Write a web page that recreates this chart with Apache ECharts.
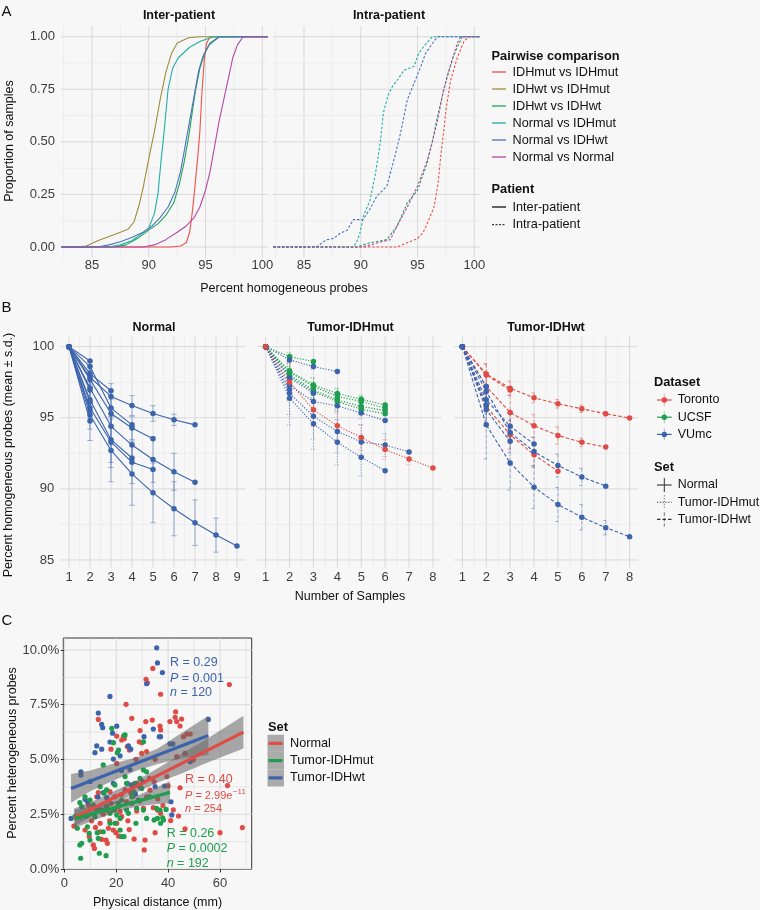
<!DOCTYPE html>
<html><head><meta charset="utf-8">
<script src="https://cdn.jsdelivr.net/npm/echarts@6/dist/echarts.min.js"></script>
<style>html,body{margin:0;padding:0;background:#f7f7f7}#c{width:760px;height:910px}</style>
</head><body><div id="c"></div>
<script>
// ================= DATA =================
// ---- Panel A: ECDF curves, [percent homogeneous, proportion] ----
const pairNames = ['IDHmut vs IDHmut','IDHwt vs IDHmut','IDHwt vs IDHwt','Normal vs IDHmut','Normal vs IDHwt','Normal vs Normal'];
const interIDHmutIDHmut = [[82.3,0],[92,0],[92.8,0.005],[93.3,0.02],[93.6,0.07],[93.8,0.15],[94,0.25],[94.3,0.42],[94.5,0.55],[94.7,0.75],[94.9,0.9],[95.1,0.97],[95.4,1],[100.5,1]];
const interIDHwtIDHmut = [[82.3,0],[83.5,0],[84.5,0.005],[85.5,0.03],[86.5,0.05],[87.5,0.07],[88.2,0.085],[88.7,0.12],[89.1,0.19],[89.5,0.28],[90,0.42],[90.5,0.55],[91,0.7],[91.5,0.83],[92,0.92],[92.5,0.97],[93.5,0.995],[94.5,1],[100.5,1]];
const interIDHwtIDHwt = [[82.3,0],[87,0],[88,0.01],[89,0.04],[90,0.08],[90.8,0.11],[91.5,0.15],[92.2,0.21],[92.7,0.3],[93.1,0.4],[93.5,0.52],[93.8,0.63],[94.1,0.74],[94.5,0.85],[94.9,0.92],[95.4,0.97],[96.2,1],[100.5,1]];
const interNormalIDHmut = [[82.3,0],[86.5,0],[87.5,0.01],[88.5,0.03],[89.3,0.06],[90,0.09],[90.5,0.16],[90.8,0.25],[91.1,0.42],[91.3,0.52],[91.7,0.75],[92.1,0.85],[92.6,0.9],[93.6,0.95],[94.6,0.98],[95.7,1],[100.5,1]];
const interNormalIDHwt = [[82.3,0],[85.5,0],[86.5,0.01],[87.5,0.025],[88.5,0.045],[89.5,0.07],[90.3,0.1],[91,0.14],[91.7,0.19],[92.3,0.26],[92.8,0.36],[93.2,0.48],[93.6,0.6],[94,0.72],[94.4,0.84],[94.8,0.91],[95.3,0.96],[96.2,1],[100.5,1]];
const interNormalNormal = [[82.3,0],[89.5,0],[90.5,0.01],[91.5,0.035],[92.5,0.07],[93.3,0.1],[94,0.14],[94.5,0.19],[95,0.27],[95.4,0.36],[95.8,0.48],[96.2,0.6],[96.6,0.7],[97,0.8],[97.4,0.9],[97.8,0.96],[98.3,1],[100.5,1]];
const intraIDHmutIDHmut = [[82.3,0],[93.2,0],[94.1,0.02],[95,0.04],[95.5,0.07],[95.85,0.11],[96.45,0.19],[96.8,0.3],[97,0.41],[97.3,0.55],[97.5,0.65],[97.9,0.79],[98.5,0.9],[99.1,0.98],[99.55,1],[100.5,1]];
const intraIDHwtIDHwt = [[82.3,0],[89.65,0],[90.8,0.02],[92.3,0.035],[93.2,0.1],[94.1,0.21],[95,0.27],[95.85,0.4],[96.3,0.5],[96.75,0.62],[97.2,0.72],[97.6,0.81],[98.1,0.9],[98.5,0.95],[98.95,1],[100.5,1]];
const intraNormalIDHmut = [[82.3,0],[89.35,0],[89.6,0.02],[89.9,0.06],[90.25,0.15],[90.8,0.22],[91.3,0.35],[91.7,0.49],[92,0.64],[92.4,0.72],[92.75,0.76],[93.3,0.8],[93.8,0.84],[94.7,0.86],[95.1,0.92],[95.5,0.95],[96.3,1],[100.5,1]];
const intraNormalIDHwt = [[82.3,0],[86.1,0],[87,0.035],[87.6,0.04],[88.2,0.066],[88.8,0.08],[89.35,0.13],[90.2,0.13],[90.8,0.18],[91.4,0.24],[92.3,0.29],[92.9,0.41],[93.5,0.54],[93.8,0.62],[94.1,0.7],[94.7,0.78],[95.3,0.86],[95.7,0.92],[96.2,0.96],[96.75,1],[100.5,1]];
const intraNormalNormal = [[82.3,0],[90.2,0],[91.5,0.02],[92.6,0.035],[93.2,0.1],[94.1,0.19],[95,0.29],[95.85,0.41],[96.3,0.5],[96.75,0.6],[97.3,0.75],[97.9,0.86],[98.5,0.97],[98.8,1],[100.5,1]];
const aXMajor = [85,90,95,100], aXMinor = [82.5,87.5,92.5,97.5];
const aYMajor = [0,0.25,0.5,0.75,1], aYMinor = [0.125,0.375,0.625,0.875];

// ---- Panel B: mean and s.d. of percent homogeneous probes by number of samples ----
const datasetNames = ['Toronto','UCSF','VUmc'];
const bNormalMeans = [
 [100,95.2,92.7,91.05,89.72,88.6,87.62,86.75,85.98],
 [100,97.85,96.5,95.86,95.3,94.86,94.5],
 [100,97.1,94.4,93.08,92.06,91.2,90.47],
 [100,97.7,95.3,94.28,93.53],
 [100,95.7,93.3,91.87,91.36],
 [100,98.6,95.68,94.5],
 [100,96.26,93.46,92.17],
 [100,98.1,96.9],
 [100,98.99],[100,96.96],[100,96.1],[100,95.5],[100,94.77]];
const bNormalSD = [
 [0,1.8,2.2,2.2,2.1,1.9,1.6,1.2,0],
 [0,0.5,0.9,0.7,0.55,0.4,0],
 [0,1.0,1.3,1.3,1.6,1.3,0],
 [0,0.6,1.0,0.8,0],
 [0,1.5,1.8,1.5,0],
 [0,0.4,1.2,0],
 [0,1.3,1.6,0],
 [0,0.6,0],
 [0,0],[0,0],[0,0],[0,0],[0,0]];
const bNormalDataset = ['VUmc','VUmc','VUmc','VUmc','VUmc','VUmc','VUmc','VUmc','VUmc','VUmc','VUmc','VUmc','VUmc'];

const bIDHmutMeans = [
 [100,99.3,98.95],
 [100,98.3,97.3,96.7,96.3,95.9],
 [100,98.2,97.2,96.5,96.14,95.68],
 [100,98.0,96.96,96.26,95.8,95.5],
 [100,97.9,96.85,96.14,95.6,95.28],
 [100,99.07,98.6,98.25],
 [100,97.3,96.14,95.84,95.33,94.8],
 [100,96.73,95.1,94.04,93.3,93.08,92.6],
 [100,96.38,94.58,93.27,92.22,91.28],
 [100,97.8,96.73],
 [100,97.0],
 [100,97.5,95.56,94.44,93.62,92.76,92.1,91.47]];
const bIDHmutSD = [
 [0,0.3,0],
 [0,0.6,0.5,0.4,0.3,0],
 [0,0.7,0.6,0.5,0.35,0],
 [0,0.6,0.55,0.45,0.3,0],
 [0,0.7,0.6,0.5,0.35,0],
 [0,0.3,0.2,0],
 [0,1.0,0.7,0.5,0.4,0],
 [0,1.5,1.6,1.5,1.2,0.8,0],
 [0,1.9,1.8,1.6,1.3,0],
 [0,0.5,0],
 [0,0],
 [0,1.3,1.2,1.0,0.9,0.7,0.4,0]];
const bIDHmutDataset = ['UCSF','UCSF','UCSF','UCSF','UCSF','VUmc','VUmc','VUmc','VUmc','VUmc','VUmc','Toronto'];

const bIDHwtMeans = [
 [100,98.08,97.08,96.4,95.98,95.63,95.28,94.98],
 [100,98.0,96.95],
 [100,97.2,95.37,94.44,93.76,93.27,92.94],
 [100,95.8,93.8,92.4,91.24],
 [100,94.5,91.82,90.12,88.9,88.01,87.27,86.64],
 [100,96.85,93.97,92.62,91.64,90.84,90.19],
 [100,96.26,94.4,93.15],
 [100,95.56,93.34],
 [100,97.2],[100,95.9]];
const bIDHwtSD = [
 [0,0.7,0.5,0.35,0.3,0.25,0.15,0],
 [0,0.8,0],
 [0,1.0,1.2,0.8,0.6,0.3,0],
 [0,1.2,1.0,0.9,0],
 [0,2.4,1.9,1.5,1.2,0.9,0.5,0],
 [0,1.4,1.4,1.0,0.8,0.6,0],
 [0,1.0,0.9,0],
 [0,1.1,0],
 [0,0],[0,0]];
const bIDHwtDataset = ['Toronto','Toronto','Toronto','Toronto','VUmc','VUmc','VUmc','VUmc','VUmc','VUmc'];
const bYMajor = [85,90,95,100], bYMinor = [87.5,92.5,97.5];
const bXNormal = [1,2,3,4,5,6,7,8,9], bXTumor = [1,2,3,4,5,6,7,8];

// ---- Panel C: [physical distance mm, percent heterogeneous] ----
const scatterNormal = [[34.1,9.16],[31.5,8.66],[32,8.5],[37.1,7.98],[63.6,8.42],[23.8,7.52],[13.1,6.83],[26,6.88],[42.9,7.18],[42.7,6.93],[45.2,6.85],[43.3,6.73],[31.4,6.73],[33.9,6.8],[29.2,6.32],[36.9,6.53],[37.1,6.35],[40.7,6.73],[44.6,6.53],[45.9,6.04],[47.2,6.16],[48.5,6.16],[20.2,6.07],[22.8,6.04],[22.1,5.89],[23.1,5.95],[24.3,5.59],[25.1,5.43],[28.9,5.81],[29.8,5.77],[29.8,5.28],[31.7,5.36],[18,5.47],[20.2,4.82],[27.6,5.01],[35,5.01],[43.3,5.13],[46.5,5.28],[49.7,4.98],[62.9,3.81],[44.6,3.71],[68.6,1.89],[60,1.66],[46.5,1.83],[44,2.42],[41,2.21],[37.1,2.54],[34.3,2.8],[35.9,2.69],[35,1.66],[31.1,1.32],[30.8,0.87],[26.9,1.37],[27.9,2.65],[26,3],[24,3.07],[22.1,2.39],[21.5,2.62],[20.2,2.09],[18.9,1.78],[19.9,1.66],[17,1.86],[16.1,1.32],[16.6,1.17],[13.8,2.09],[13.8,1.7],[14.4,1.35],[11.2,1.1],[11.6,0.94],[9.6,1.48],[3.7,1.96],[8,1.78],[6,2.39],[9.3,2.92],[12.5,3.3],[13.1,3.49],[17.6,3.53],[19.5,3.3],[23.4,3.61],[25.6,3.49],[26.6,3.33],[20.8,2.85],[16.3,2.69],[31.7,3.3],[34.6,3.99],[32.8,4.14],[39.5,4.22],[19.5,2.69],[30.5,2.77],[13.8,2.69],[10.5,2.2],[15,2.5],[18,3.0],[22,3.4],[24.5,2.2],[28,3.9],[12,1.9],[17.5,2.2],[21,1.5],[25,1.8],[29,3.1],[33,3.6],[36,3.2],[38,2.9],[40,3.8],[42,2.7]];
const scatterIDHmut = [[6.3,0.49],[16.1,0.61],[13.5,0.72],[6,1.1],[6.7,1.17],[9.9,1.32],[9.6,1.63],[12.7,1.66],[13.1,1.4],[15,1.7],[17.6,2.09],[19.5,2.09],[21.5,1.78],[22.1,1.48],[23,1.48],[27.6,2.09],[31.7,2.31],[34.6,2.24],[38.2,2.24],[37.9,2.34],[39.2,2.72],[35.6,2.77],[27.9,2.77],[30.5,2.69],[26,3.3],[26.6,3.53],[29.2,4.14],[29.8,3.68],[27.2,3.91],[30.5,4.52],[31.7,4.44],[30.5,5.81],[23.4,6.12],[23.1,6.1],[18.3,6.42],[18.9,5.77],[20.9,5.43],[20.4,5.31],[15,4.75],[8,3.3],[6,3.03],[6.7,2.85],[8.6,2.42],[9.9,3.15],[11.2,2.92],[13.8,3.76],[16.3,3.61],[15.3,3.46],[12.5,2.69],[11.8,2.39],[17.6,2.54],[18.9,2.69],[20.8,3],[22.1,3.15],[24,2.69],[24.7,2.54],[35.9,2.31],[37.1,2.09],[20.2,2.47],[21.5,2.31],[4.1,2.39],[5,1.86],[8.9,1.93],[16.3,2.85],[23.4,4.22],[24,3.91],[19.5,3.84],[32.9,3.3],[28.5,3.15],[36.9,2.69]];
const scatterIDHwt = [[2.6,2.31],[35.6,10.1],[35.9,9.41],[37.8,8.97],[31.7,8.46],[17.6,7.88],[13.1,7.12],[14.4,6.6],[14.8,6.45],[20.2,6.52],[18.6,6.2],[34.3,6.39],[30.7,6.04],[36.6,6.04],[17.6,5.8],[12.5,5.62],[14.4,5.47],[24.7,5.62],[25.6,5.47],[11.8,5.31],[18.9,5.02],[6.4,4.44],[6.4,4.29],[37.1,6.04],[55.5,6.83],[40.7,5.71],[41.8,5.71],[48.5,4.9],[24.3,3.91],[25.9,3.84],[35,3.76],[38.6,3.79],[8,3.18],[8.9,3.08],[15,3.49],[14.4,2.69],[41.1,3.07],[41.4,2.47],[30.2,3.99],[21.5,5.17],[16.3,3.26],[25.3,4.54],[27.4,3.43],[29.2,3.76],[18.9,3.91],[10,4.0],[13,3.3],[22,4.5]];
const fitNormal = [[3.7,2.33],[69,6.25]];
const fitIDHmut = [[4.1,2.3],[40.7,3.5]];
const fitIDHwt = [[2.6,3.68],[55.5,6.1]];
const bandNormal = [[3.7,1.93,2.75],[12,2.5,3.15],[20,3.0,3.6],[28,3.5,4.05],[36,3.95,4.6],[45,4.35,5.25],[55,4.85,5.95],[69,5.5,7.0]];
const bandIDHmut = [[4.1,1.88,2.72],[12,2.25,2.9],[20,2.6,3.1],[28,2.85,3.35],[34,2.95,3.65],[40.7,3.0,4.0]];
const bandIDHwt = [[2.6,3.03,4.34],[10,3.55,4.5],[20,4.1,4.85],[28,4.5,5.1],[36,4.8,5.5],[45,5.05,6.2],[55.5,5.2,7.0]];
const cXMajor = [0,20,40,60], cXMinor = [10,30,50,70];
const cYMajor = [0,2.5,5,7.5,10], cYMinor = [1.25,3.75,6.25,8.75];
const setNames = ['Normal','Tumor-IDHmut','Tumor-IDHwt'];

// ================= STYLE =================
const FONT = '"Liberation Sans", Arial, Helvetica, sans-serif';
const GMAJ = '#d9d9d9', GMIN = '#e8e8e8', TXT = '#3d3d3d', DARK = '#111';
const colA = ['#EE5049','#9F8D3C','#22A257','#1FB0A3','#4B73BA','#B548A6'];
const colB = {Toronto:'#E04B45', UCSF:'#1E9E4E', VUmc:'#3C64AD'};
const bandFill = 'rgba(100,100,100,0.55)';

const chart = echarts.init(document.getElementById('c'), null, {renderer:'canvas'});

const grids = [
 {left:61, top:26.2, width:207, height:231.3},
 {left:273, top:26.2, width:207, height:231.3},
 {left:60.6, top:336.7, width:184.8, height:231.1},
 {left:257.3, top:336.7, width:184, height:231.1},
 {left:454, top:336.7, width:184, height:231.1},
 {left:63.3, top:638, width:188.4, height:231.5, show:true, borderColor:'#333', borderWidth:1, backgroundColor:'transparent'}
].map(g=>Object.assign({containLabel:false, outerBoundsMode:'none'}, g));

function axis(gi, min, max, labels, o={}){
  return {
    type:'value', gridIndex:gi, min, max, scale:true,
    axisLine:{show:false},
    axisTick:{show:!!o.tick, customValues:labels, length:o.tickLen||3, lineStyle:{color:o.tickColor||'#bbb', width:1}},
    axisLabel:{show:o.show!==false, customValues:labels, fontSize:o.fs||13, fontFamily:FONT, color:TXT, margin:o.margin||4,
      formatter:o.fmt||(v=>String(v))},
    splitLine:{show:false}, minorSplitLine:{show:false}
  };
}
const xAxes = [
 axis(0,82.27,100.5,aXMajor,{margin:1}),
 axis(1,82.27,100.5,aXMajor,{margin:1}),
 axis(2,0.6,9.4,bXNormal,{margin:3.5}),
 axis(3,0.65,8.35,bXTumor,{margin:3.5}),
 axis(4,0.65,8.35,bXTumor,{margin:3.5}),
 axis(5,-0.385,72.2,cXMajor,{margin:7,tick:true,tickLen:3.5,tickColor:'#333'})
];
const yAxes = [
 axis(0,-0.05,1.05,aYMajor,{margin:6,fmt:v=>v.toFixed(2)}),
 axis(1,-0.05,1.05,aYMajor,{show:false}),
 axis(2,84.45,100.7,bYMajor,{margin:6.3}),
 axis(3,84.45,100.7,bYMajor,{show:false}),
 axis(4,84.45,100.7,bYMajor,{show:false}),
 axis(5,-0.023,10.548,cYMajor,{margin:4,tick:true,tickLen:3.5,tickColor:'#333',fmt:v=>v.toFixed(1)+'%'})
];

const series = [];
// gridlines (custom series through axis scales)
function gridLines(gi, xMaj, xMin, yMaj, yMin, xMid, yMid, minorCol){
  const data = [];
  xMin.forEach(v=>data.push([0,v,0])); xMaj.forEach(v=>data.push([0,v,1]));
  yMin.forEach(v=>data.push([1,v,0])); yMaj.forEach(v=>data.push([1,v,1]));
  series.push({type:'custom', xAxisIndex:gi, yAxisIndex:gi, data, silent:true, z:0, animation:false, clip:false,
    encode:{x:-1, y:-1},
    renderItem:(p, api)=>{
      const o=api.value(0), v=api.value(1), m=api.value(2), cs=p.coordSys;
      const st={stroke: m?GMAJ:(minorCol||GMIN), lineWidth: m?1:0.7};
      if(o===0){ const x=api.coord([v,yMid])[0]; return {type:'line', shape:{x1:x,y1:cs.y,x2:x,y2:cs.y+cs.height}, style:st}; }
      const y=api.coord([xMid,v])[1]; return {type:'line', shape:{x1:cs.x,y1:y,x2:cs.x+cs.width,y2:y}, style:st};
    }});
}
gridLines(0,aXMajor,aXMinor,aYMajor,aYMinor,90,0.5);
gridLines(1,aXMajor,aXMinor,aYMajor,aYMinor,90,0.5);
const halves = n=>{const r=[];for(let i=1;i<n;i++)r.push(i+0.5);return r;};
gridLines(2,bXNormal,halves(9),bYMajor,bYMinor,5,92);
gridLines(3,bXTumor,halves(8),bYMajor,bYMinor,4,92);
gridLines(4,bXTumor,halves(8),bYMajor,bYMinor,4,92);
gridLines(5,cXMajor,cXMinor,cYMajor,cYMinor,30,5,'#dedede');

// Panel A lines
const interCurves = [interIDHmutIDHmut, interIDHwtIDHmut, interIDHwtIDHwt, interNormalIDHmut, interNormalIDHwt, interNormalNormal];
const intraCurves = [intraIDHmutIDHmut, null, intraIDHwtIDHwt, intraNormalIDHmut, intraNormalIDHwt, intraNormalNormal];
interCurves.forEach((d,i)=>series.push({type:'line', name:pairNames[i], xAxisIndex:0, yAxisIndex:0, data:d, showSymbol:false, symbol:'none', z:3,
  lineStyle:{color:colA[i], width:1.1}, animation:false, silent:true}));
intraCurves.forEach((d,i)=>{ if(!d) return; series.push({type:'line', name:pairNames[i], xAxisIndex:1, yAxisIndex:1, data:d, showSymbol:false, symbol:'none', z:3,
  lineStyle:{color:colA[i], width:1.1, type:[2.5,1.8]}, animation:false, silent:true}); });

// Panel B
const setDash = ['solid',[1.2,1.6],[3.5,2]];
function facetB(gi, means, sds, dsets, dash){
  const err = [];
  means.forEach((m,li)=>{
    const c = colB[dsets[li]];
    series.push({type:'line', xAxisIndex:gi, yAxisIndex:gi, data:m.map((v,k)=>[k+1,v]), symbol:'circle', symbolSize:5.5, showSymbol:true,
      lineStyle:{color:c, width:1.1, type:dash}, itemStyle:{color:c}, z:3, animation:false, silent:true});
    m.forEach((v,k)=>err.push([k+1, v, sds[li][k], datasetNames.indexOf(dsets[li])]));
  });
  series.push({type:'custom', xAxisIndex:gi, yAxisIndex:gi, data:err, z:2, silent:true, animation:false, clip:false,
    renderItem:(p, api)=>{
      const sd=api.value(2); if(!sd) return null;
      const x=api.value(0), m=api.value(1), c=colB[datasetNames[api.value(3)]];
      const t=api.coord([x,m+sd]), b=api.coord([x,m-sd]), hw=2.8;
      const st={stroke:c, lineWidth:1, opacity:0.45, lineDash: dash==='solid'?null:dash};
      return {type:'group', children:[
        {type:'line', shape:{x1:t[0],y1:t[1],x2:b[0],y2:b[1]}, style:st},
        {type:'line', shape:{x1:t[0]-hw,y1:t[1],x2:t[0]+hw,y2:t[1]}, style:st},
        {type:'line', shape:{x1:b[0]-hw,y1:b[1],x2:b[0]+hw,y2:b[1]}, style:st}]};
    }});
}
facetB(2,bNormalMeans,bNormalSD,bNormalDataset,setDash[0]);
facetB(3,bIDHmutMeans,bIDHmutSD,bIDHmutDataset,setDash[1]);
facetB(4,bIDHwtMeans,bIDHwtSD,bIDHwtDataset,setDash[2]);

// Panel C
const cColors = [colB.Toronto, colB.UCSF, colB.VUmc];
[[scatterNormal,0],[scatterIDHwt,2],[scatterIDHmut,1]].forEach(([d,i])=>series.push({type:'scatter', xAxisIndex:5, yAxisIndex:5, data:d,
  symbolSize:5.2, itemStyle:{color:cColors[i], opacity:1}, z:2, animation:false, silent:true}));
[bandNormal,bandIDHmut,bandIDHwt].forEach(band=>series.push({type:'custom', xAxisIndex:5, yAxisIndex:5, data:band, z:3, silent:true, animation:false, clip:false,
  renderItem:(p, api)=>{
    if(p.dataIndex!==0) return null;
    const up = band.map(r=>api.coord([r[0],r[2]]));
    const lo = band.slice().reverse().map(r=>api.coord([r[0],r[1]]));
    return {type:'polygon', shape:{points:up.concat(lo)}, style:{fill:bandFill}};
  }}));
[[fitNormal,0],[fitIDHmut,1],[fitIDHwt,2]].forEach(([d,i])=>series.push({type:'line', xAxisIndex:5, yAxisIndex:5, data:d, showSymbol:false, symbol:'none',
  lineStyle:{color:cColors[i], width:3.2}, z:4, animation:false, silent:true}));

// ================= TEXT / LEGENDS =================
function txt(x,y,text,o={}){
  return {type:'text', x, y, rotation:o.rot||0, silent:true, z:10,
    style:{text, fill:o.color||DARK, fontSize:o.size||12.5, fontFamily:FONT, fontWeight:o.bold?'bold':'normal',
      fontStyle:o.italic?'italic':'normal', align:o.align||'left', verticalAlign:'middle', rich:o.rich}};
}
function ln(x1,y1,x2,y2,color,w,dash,op){
  return {type:'line', silent:true, z:10, shape:{x1,y1,x2,y2}, style:{stroke:color, lineWidth:w||1, lineDash:dash||null, opacity:op==null?1:op}};
}
const G = [];
// panel letters
G.push(txt(1.5,12,'A',{size:15}), txt(1.5,308,'B',{size:15}), txt(1.5,621,'C',{size:15}));
// facet titles
G.push(txt(179,16,'Inter-patient',{bold:true,align:'center'}), txt(389,16,'Intra-patient',{bold:true,align:'center'}));
G.push(txt(154,328,'Normal',{bold:true,align:'center'}), txt(350.5,328,'Tumor-IDHmut',{bold:true,align:'center'}), txt(546,328,'Tumor-IDHwt',{bold:true,align:'center'}));
// axis titles
G.push(txt(284,289,'Percent homogeneous probes',{align:'center'}));
G.push(txt(10,141,'Proportion of samples',{align:'center',rot:Math.PI/2}));
G.push(txt(9,455,'Percent homogeneous probes (mean ± s.d.)',{align:'center',rot:Math.PI/2}));
G.push(txt(350,597,'Number of Samples',{align:'center'}));
G.push(txt(13,753,'Percent heterogeneous probes',{align:'center',rot:Math.PI/2}));
G.push(txt(157.5,903,'Physical distance (mm)',{align:'center'}));
// legend A
G.push(txt(491.5,56,'Pairwise comparison',{bold:true,size:12.8}));
pairNames.forEach((n,i)=>{ const y=72+17*i; G.push(ln(492,y,506,y,colA[i],1.3)); G.push(txt(512.5,y,n,{size:12.7})); });
G.push(txt(491.5,189.5,'Patient',{bold:true,size:12.8}));
G.push(ln(492,207,506,207,'#111',1.3), txt(512.5,207,'Inter-patient',{size:12.7}));
G.push(ln(492,224.7,506,224.7,'#111',1,[2,1.5]), txt(512.5,224.7,'Intra-patient',{size:12.7}));
// legend B
G.push(txt(654,382,'Dataset',{bold:true,size:12.8}));
datasetNames.forEach((n,i)=>{ const y=400+17.2*i, c=colB[n];
  G.push(ln(664.3,y-6,664.3,y+6,c,1,null,0.45), ln(657,y,671.7,y,c,1.2),
    {type:'circle', silent:true, z:10, shape:{cx:664.3,cy:y,r:2.7}, style:{fill:c}}, txt(677.7,y,n,{size:12.5})); });
G.push(txt(654,467.7,'Set',{bold:true,size:12.8}));
setNames.forEach((n,i)=>{ const y=485+17.2*i, d=setDash[i]==='solid'?null:setDash[i];
  G.push(ln(664.3,y-7,664.3,y+7,'#333',1,d,i?0.7:1), ln(657,y,671.7,y,'#333',1.1,d), txt(677.7,y,n,{size:12.4})); });
// legend C
G.push(txt(268,727.3,'Set',{bold:true,size:12.8}));
setNames.forEach((n,i)=>{ const y=743.3+17.3*i;
  G.push({type:'rect', silent:true, z:10, shape:{x:267.5,y:y-8.6,width:16.5,height:17.2}, style:{fill:'#ababab'}});
  G.push(ln(268.5,y,282.5,y,cColors[i],3.2)); G.push(txt(290,y,n,{size:12.7})); });
// panel C annotations
const rich = (c,s)=>({i:{fontStyle:'italic', fill:c, fontSize:s, fontFamily:FONT}, r:{fill:c, fontSize:s, fontFamily:FONT}});
const cBlue = colB.VUmc, cRed = colB.Toronto, cGreen = colB.UCSF;
G.push(txt(170,663,'R = 0.29',{color:cBlue,size:12.5}));
G.push(txt(170,679,'{i|P}{r| = 0.001}',{color:cBlue,size:12.5,rich:rich(cBlue,12.5)}));
G.push(txt(170,693,'{i|n}{r| = 120}',{color:cBlue,size:12.5,rich:rich(cBlue,12.5)}));
G.push(txt(185,779.3,'R = 0.40',{color:cRed,size:12.5}));
G.push(txt(185,795.7,'{i|P}{r| = 2.99e}',{color:cRed,size:11,rich:rich(cRed,11)}));
const mctx = document.createElement('canvas').getContext('2d'); mctx.font = '11px '+FONT;
const supX = 185 + mctx.measureText('P = 2.99e').width + 0.5;
G.push(txt(supX,791.5,'−11',{color:cRed,size:8}));
G.push(txt(185,809.3,'{i|n}{r| = 254}',{color:cRed,size:11,rich:rich(cRed,11)}));
G.push(txt(166.7,833.3,'R = 0.26',{color:cGreen,size:12.5}));
G.push(txt(166.7,848.3,'{i|P}{r| = 0.0002}',{color:cGreen,size:12.5,rich:rich(cGreen,12.5)}));
G.push(txt(166.7,863.3,'{i|n}{r| = 192}',{color:cGreen,size:12.5,rich:rich(cGreen,12.5)}));

chart.setOption({
  backgroundColor:'#f7f7f7', animation:false,
  grid:grids, xAxis:xAxes, yAxis:yAxes, series, graphic:{elements:G}
});
</script></body></html>
